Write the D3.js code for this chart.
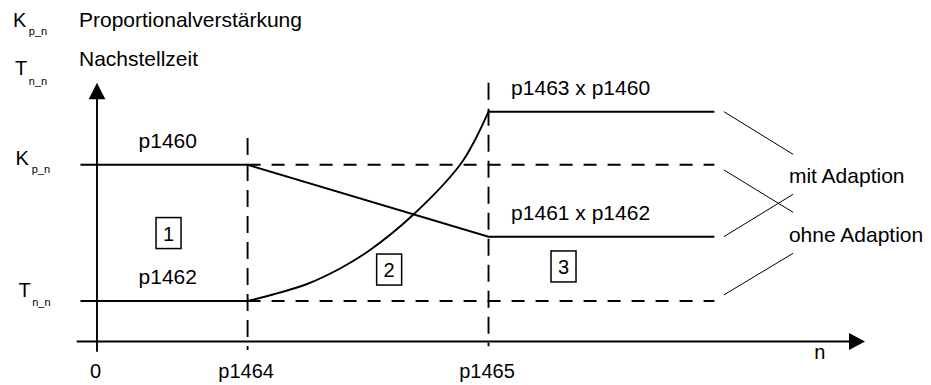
<!DOCTYPE html>
<html>
<head>
<meta charset="utf-8">
<script src="https://cdn.jsdelivr.net/npm/d3@7"></script>
<style>
  html, body { margin: 0; padding: 0; background: #fff; }
  svg { display: block; }
  text { font-family: "Liberation Sans", Arial, Helvetica, sans-serif; fill: #000; }
</style>
</head>
<body>
<svg id="chart" width="931" height="385"></svg>
<script>
// Speed breakpoints on the n axis (0, p1464, p1465) and end of the drawn range
const nLabels   = ["0", "p1464", "p1465"];
const nValues   = [0, 1.0, 2.6];
const nStart    = -0.11;
const nEnd      = 4.1;

// Controller levels (arbitrary units)
const kpLevel   = 6.83;   // p1460
const tnLevel   = 1.565;  // p1462
const kpAdapted = 4.05;   // p1461 x p1462
const tnAdapted = 8.88;   // p1463 x p1460

// Kp with adaption: constant, linear transition, constant
const kpWith = [[nStart, kpLevel], [1.0, kpLevel], [2.6, kpAdapted], [nEnd, kpAdapted]];
// Tn with adaption: constant, curved rise between p1464 and p1465, constant
const tnFlatLow  = [[nStart, tnLevel], [1.0, tnLevel]];
const tnRise     = [[1.0, 1.565], [1.169, 1.816], [1.395, 2.222], [1.614, 2.821],
                    [1.813, 3.536], [2.098, 4.888], [2.410, 6.820], [2.510, 7.786], [2.6, 8.88]];
const tnFlatHigh = [[2.6, tnAdapted], [nEnd, tnAdapted]];
// Without adaption: levels stay constant
const kpWithout = [[1.0, kpLevel], [nEnd, kpLevel]];
const tnWithout = [[1.0, tnLevel], [nEnd, tnLevel]];

// Range labels on the curves
const curveLabels = [
  { text: "p1460",          n: 0.47, y: kpLevel,   anchor: "middle" },
  { text: "p1462",          n: 0.47, y: tnLevel,   anchor: "middle" },
  { text: "p1463 x p1460",  n: 2.75, y: tnAdapted, anchor: "start" },
  { text: "p1461 x p1462",  n: 2.75, y: kpAdapted, anchor: "start" }
];
// Numbered ranges
const regions = [
  { label: "1", n: 0.475, y: 4.19 },
  { label: "2", n: 1.940, y: 2.78 },
  { label: "3", n: 3.098, y: 2.90 }
];
// Legend callouts: leader lines from the line ends to the text
const legendNames = ["mit Adaption", "ohne Adaption"];
const legendText  = [{ n: 4.595, y: 6.14 }, { n: 4.595, y: 3.86 }];
const leaders = [
  { group: 0, from: [4.163, tnAdapted], to: [4.623, 7.23] },
  { group: 0, from: [4.163, kpAdapted], to: [4.623, 5.69] },
  { group: 1, from: [4.163, 6.63],      to: [4.623, 4.99] },
  { group: 1, from: [4.163, 1.80],      to: [4.623, 3.41] }
];

const svg = d3.select("#chart");
const x = d3.scaleLinear().domain([0, 5.1]).range([97, 865]);
const y = d3.scaleLinear().domain([0, 10]).range([341.5, 82.7]);

const ink = "#000";
const lw = 1.9;
const fs = 21;
const line = d3.line().x(d => x(d[0])).y(d => y(d[1]));
const smooth = d3.line().x(d => x(d[0])).y(d => y(d[1])).curve(d3.curveCatmullRom.alpha(0.5));

// Axes
const axisBottom = d3.axisBottom(x)
  .tickValues(nValues)
  .tickFormat((d, i) => nLabels[i])
  .tickSize(0)
  .tickSizeOuter(0);
const gx = svg.append("g").attr("transform", `translate(0,${y(0)})`).call(axisBottom);
gx.select(".domain").remove();
gx.selectAll("text")
  .attr("y", 36.5).attr("dy", 0).attr("dx", -2)
  .attr("font-size", 20)
  .attr("font-family", "Liberation Sans, Arial, sans-serif")
  .attr("fill", ink);

svg.append("line")
  .attr("x1", x(-0.135)).attr("x2", x(5.0)).attr("y1", y(0)).attr("y2", y(0))
  .attr("stroke", ink).attr("stroke-width", lw);
svg.append("path")
  .attr("d", `M${x(5.1)},${y(0)} L${x(5.1) - 16},${y(0) - 8.5} L${x(5.1) - 16},${y(0) + 8.5} Z`)
  .attr("fill", ink);

svg.append("line")
  .attr("x1", x(0)).attr("x2", x(0)).attr("y1", y(-0.4)).attr("y2", y(9.5))
  .attr("stroke", ink).attr("stroke-width", lw);
svg.append("path")
  .attr("d", `M${x(0)},${y(10)} L${x(0) - 8.3},${y(10) + 16.6} L${x(0) + 8.3},${y(10) + 16.6} Z`)
  .attr("fill", ink);

svg.append("text").attr("x", x(4.80)).attr("y", 359).attr("text-anchor", "middle")
  .attr("font-size", 20).text("n");

// Breakpoint guides
svg.append("line")
  .attr("x1", x(1.0)).attr("x2", x(1.0)).attr("y1", y(7.86)).attr("y2", y(-0.33))
  .attr("stroke", ink).attr("stroke-width", lw).attr("stroke-dasharray", "17,9");
svg.append("line")
  .attr("x1", x(2.6)).attr("x2", x(2.6)).attr("y1", y(10.0)).attr("y2", y(-0.18))
  .attr("stroke", ink).attr("stroke-width", lw).attr("stroke-dasharray", "17,9");

// Without adaption (dashed)
[kpWithout, tnWithout].forEach(s => {
  svg.append("path").attr("d", line(s))
    .attr("fill", "none").attr("stroke", ink).attr("stroke-width", lw)
    .attr("stroke-dasharray", "13,11");
});

// With adaption (solid)
[kpWith, tnFlatLow, tnFlatHigh].forEach(s => {
  svg.append("path").attr("d", line(s))
    .attr("fill", "none").attr("stroke", ink).attr("stroke-width", lw);
});
svg.append("path").attr("d", smooth(tnRise))
  .attr("fill", "none").attr("stroke", ink).attr("stroke-width", lw);

// Curve labels
curveLabels.forEach(d => {
  svg.append("text").attr("x", x(d.n)).attr("y", y(d.y) - 17)
    .attr("text-anchor", d.anchor).attr("font-size", fs).text(d.text);
});

// Numbered range boxes
regions.forEach(d => {
  const g = svg.append("g").attr("transform", `translate(${x(d.n)},${y(d.y)})`);
  g.append("rect").attr("x", -12.5).attr("y", -15.5).attr("width", 25).attr("height", 31)
    .attr("fill", "none").attr("stroke", ink).attr("stroke-width", 1.5);
  g.append("text").attr("x", 0).attr("y", 7.5).attr("text-anchor", "middle")
    .attr("font-size", 20).text(d.label);
});

// Callouts
leaders.forEach(d => {
  svg.append("line")
    .attr("x1", x(d.from[0])).attr("y1", y(d.from[1]))
    .attr("x2", x(d.to[0])).attr("y2", y(d.to[1]))
    .attr("stroke", ink).attr("stroke-width", 1);
});
legendNames.forEach((t, i) => {
  svg.append("text").attr("x", x(legendText[i].n)).attr("y", y(legendText[i].y))
    .attr("font-size", fs).text(t);
});

// Symbol legend and y-axis level labels
function symbol(xp, yp, main, sub, subDx, subDy) {
  const t = svg.append("text").attr("x", xp).attr("y", yp).attr("font-size", 20);
  t.append("tspan").text(main);
  t.append("tspan").attr("font-size", 11).attr("dx", subDx).attr("dy", subDy).text(sub);
}
symbol(13, 27, "K", "p_n", 2.5, 8);
svg.append("text").attr("x", 79).attr("y", 27).attr("font-size", fs).text("Proportionalverstärkung");
symbol(15, 75, "T", "n_n", 1.5, 10);
svg.append("text").attr("x", 79).attr("y", 66).attr("font-size", fs).text("Nachstellzeit");

symbol(15.5, y(kpLevel), "K", "p_n", 3, 8);
symbol(18.5, y(tnLevel) - 4, "T", "n_n", 1.5, 9);
</script>
</body>
</html>
